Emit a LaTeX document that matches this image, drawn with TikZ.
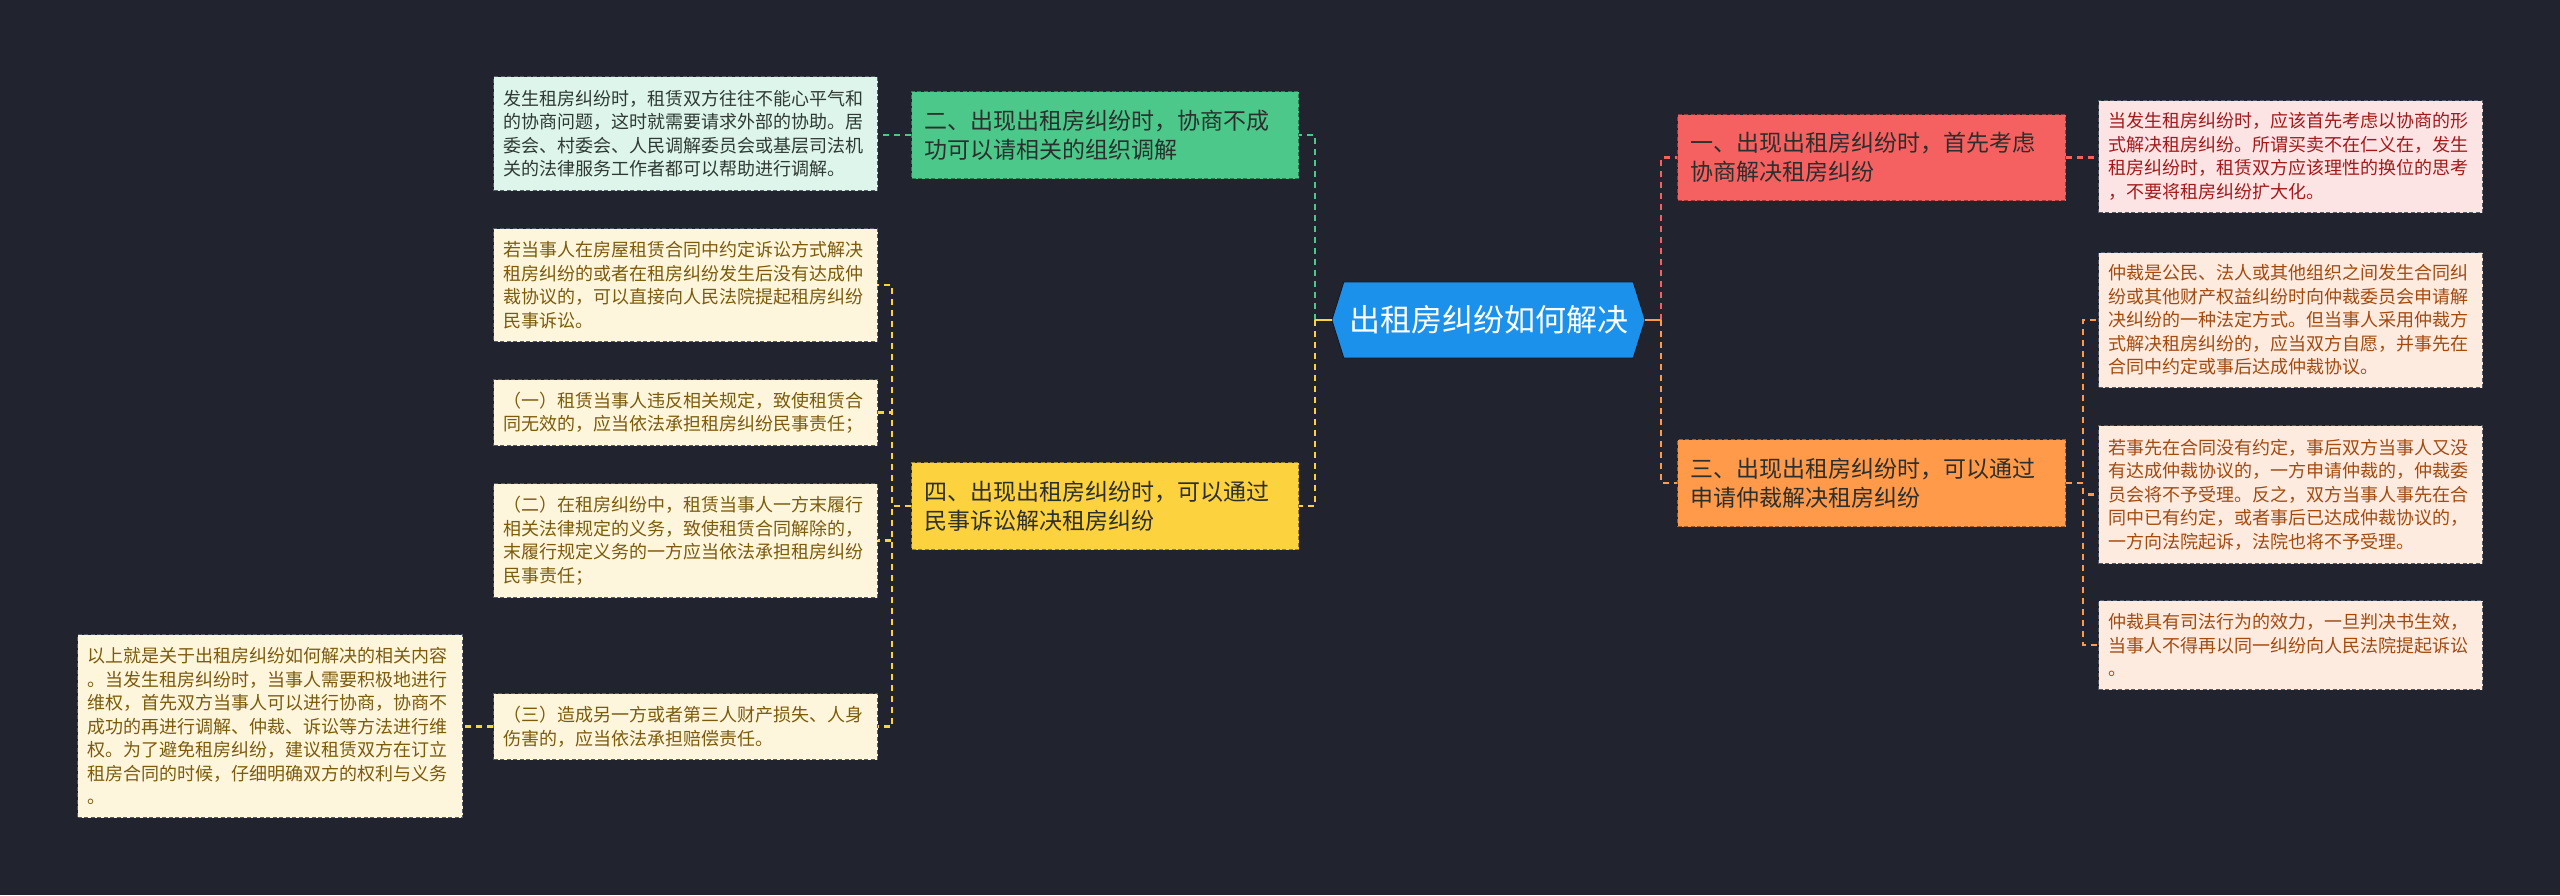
\documentclass[tikz,border=0pt]{standalone}
\usepackage{fontspec}
\setmainfont{Noto Sans CJK SC}
\usetikzlibrary{calc,backgrounds}
\setlength{\parindent}{0pt}
\definecolor{bg}{HTML}{21242F}
\definecolor{cblue}{HTML}{1C91EC}
\definecolor{cgreen}{HTML}{4CC98A}
\definecolor{cyellow}{HTML}{FDD23F}
\definecolor{cred}{HTML}{F56060}
\definecolor{corange}{HTML}{FF9A4A}
\definecolor{gleaffill}{HTML}{DDF5EA}
\definecolor{gleaftext}{HTML}{2E3A33}
\definecolor{yleaffill}{HTML}{FEF6DC}
\definecolor{yleaftext}{HTML}{7B5B0C}
\definecolor{rleaffill}{HTML}{FDE4E4}
\definecolor{rleaftext}{HTML}{A3191B}
\definecolor{oleaffill}{HTML}{FDEBE0}
\definecolor{oleaftext}{HTML}{A34A0F}
\definecolor{leafborder}{HTML}{555A66}
\definecolor{branchtext}{HTML}{2B2F2D}
\tikzset{
  conn/.style={line width=2.2pt, dash pattern=on 6pt off 5pt},
  stub/.style={line width=2.2pt},
  boxbase/.style={rectangle, anchor=north west, align=left, inner xsep=10pt, inner ysep=0pt, line width=1.1pt, dash pattern=on 4pt off 2.5pt},
  leaf/.style={boxbase, font=\fontsize{18}{23.5}\selectfont, text width=364pt},
  branch/.style={boxbase, inner xsep=13pt, font=\fontsize{23}{29}\selectfont, text=branchtext, text width=361pt},
  gleafst/.style={leaf, fill=gleaffill, draw=leafborder, text=gleaftext},
  yleafst/.style={leaf, fill=yleaffill, draw=leafborder, text=yleaftext},
  rleafst/.style={leaf, fill=rleaffill, draw=leafborder, text=rleaftext},
  oleafst/.style={leaf, fill=oleaffill, draw=leafborder, text=oleaftext},
  gbranch/.style={branch, fill=cgreen, draw=cgreen!60!black},
  ybranch/.style={branch, fill=cyellow, draw=cyellow!60!black},
  rbranch/.style={branch, fill=cred, draw=cred!60!black},
  obranch/.style={branch, fill=corange, draw=corange!60!black},
  centerst/.style={rectangle, minimum width=313pt, minimum height=76pt, inner sep=0pt, text=white, font=\fontsize{31}{36}\selectfont}
}
\begin{document}
\begin{tikzpicture}[x=1pt,y=-1pt]
\useasboundingbox (0,0) rectangle (2560,895);

% center
\node[centerst] (c) at (1488.5,320) {出租房纠纷如何解决};

% left branches
\node[gbranch, minimum height=87pt] (n2) at (911,91) {二、出现出租房纠纷时，协商不成\\功可以请相关的组织调解};
\node[ybranch, minimum height=87pt] (n4) at (911,462) {四、出现出租房纠纷时，可以通过\\民事诉讼解决租房纠纷};

% right branches
\node[rbranch, minimum height=86pt, text width=362pt] (n1) at (1677,114) {一、出现出租房纠纷时，首先考虑\\协商解决租房纠纷};
\node[obranch, minimum height=87pt, text width=362pt] (n3) at (1677,439) {三、出现出租房纠纷时，可以通过\\申请仲裁解决租房纠纷};

% left leaves
\node[gleafst, minimum height=114pt] (gl) at (493,76) {发生租房纠纷时，租赁双方往往不能心平气和\\的协商问题，这时就需要请求外部的协助。居\\委会、村委会、人民调解委员会或基层司法机\\关的法律服务工作者都可以帮助进行调解。};
\node[yleafst, minimum height=113pt] (la) at (493,228) {若当事人在房屋租赁合同中约定诉讼方式解决\\租房纠纷的或者在租房纠纷发生后没有达成仲\\裁协议的，可以直接向人民法院提起租房纠纷\\民事诉讼。};
\node[yleafst, minimum height=66pt] (lb) at (493,379) {（一）租赁当事人违反相关规定，致使租赁合\\同无效的，应当依法承担租房纠纷民事责任；};
\node[yleafst, minimum height=114pt] (lc) at (493,483) {（二）在租房纠纷中，租赁当事人一方末履行\\相关法律规定的义务，致使租赁合同解除的，\\末履行规定义务的一方应当依法承担租房纠纷\\民事责任；};
\node[yleafst, minimum height=66pt] (ld) at (493,693) {（三）造成另一方或者第三人财产损失、人身\\伤害的，应当依法承担赔偿责任。};
\node[yleafst, minimum height=183pt, text width=365pt] (le) at (77,634) {以上就是关于出租房纠纷如何解决的相关内容\\。当发生租房纠纷时，当事人需要积极地进行\\维权，首先双方当事人可以进行协商，协商不\\成功的再进行调解、仲裁、诉讼等方法进行维\\权。为了避免租房纠纷，建议租赁双方在订立\\租房合同的时候，仔细明确双方的权利与义务\\。};

% right leaves
\node[rleafst, minimum height=112pt] (rl) at (2098,100) {当发生租房纠纷时，应该首先考虑以协商的形\\式解决租房纠纷。所谓买卖不在仁义在，发生\\租房纠纷时，租赁双方应该理性的换位的思考\\，不要将租房纠纷扩大化。};
\node[oleafst, minimum height=135pt] (o1) at (2098,252) {仲裁是公民、法人或其他组织之间发生合同纠\\纷或其他财产权益纠纷时向仲裁委员会申请解\\决纠纷的一种法定方式。但当事人采用仲裁方\\式解决租房纠纷的，应当双方自愿，并事先在\\合同中约定或事后达成仲裁协议。};
\node[oleafst, minimum height=138pt] (o2) at (2098,425) {若事先在合同没有约定，事后双方当事人又没\\有达成仲裁协议的，一方申请仲裁的，仲裁委\\员会将不予受理。反之，双方当事人事先在合\\同中已有约定，或者事后已达成仲裁协议的，\\一方向法院起诉，法院也将不予受理。};
\node[oleafst, minimum height=89pt] (o3) at (2098,600) {仲裁具有司法行为的效力，一旦判决书生效，\\当事人不得再以同一纠纷向人民法院提起诉讼\\。};

\begin{scope}[on background layer]
  \fill[bg] (0,0) rectangle (2560,895);
  \filldraw[fill=cblue, draw=bg!70!black, line width=1pt]
    (c.west) -- ($(c.north west)+(12,0)$) -- ($(c.north east)+(-12,0)$) -- (c.east)
    -- ($(c.south east)+(-12,0)$) -- ($(c.south west)+(12,0)$) -- cycle;
  % connectors from center
  \draw[conn, cgreen] (c.west) ++(-17,0) |- (n2.east);
  \draw[conn, cyellow] (c.west) ++(-17,0) |- (n4.east);
  \draw[stub, cyellow] (c.west) -- ++(-17,0);
  \draw[conn, cred] (c.east) ++(16,0) |- (n1.west);
  \draw[conn, corange] (c.east) ++(16,0) |- (n3.west);
  \draw[stub, corange] (c.east) -- ++(16,0);
  % branch to leaves
  \draw[conn, cgreen] (n2.west) -- (n2.west -| gl.east);
  \draw[conn, cred] (n1.east) -- (n1.east -| rl.west);
  \draw[conn, cyellow] (n4.west) -- ++(-19,0) |- (la.east);
  \draw[conn, cyellow] (n4.west) -- ++(-19,0) |- (lb.east);
  \draw[conn, cyellow] (n4.west) -- ++(-19,0) |- (lc.east);
  \draw[conn, cyellow] (n4.west) -- ++(-19,0) |- (ld.east);
  \draw[conn, cyellow] (ld.west) -- (ld.west -| le.east);
  \draw[conn, corange] (n3.east) -- ++(17,0) |- (o1.west);
  \draw[conn, corange] (n3.east) -- ++(17,0) |- (o2.west);
  \draw[conn, corange] (n3.east) -- ++(17,0) |- (o3.west);
\end{scope}
\end{tikzpicture}
\end{document}
